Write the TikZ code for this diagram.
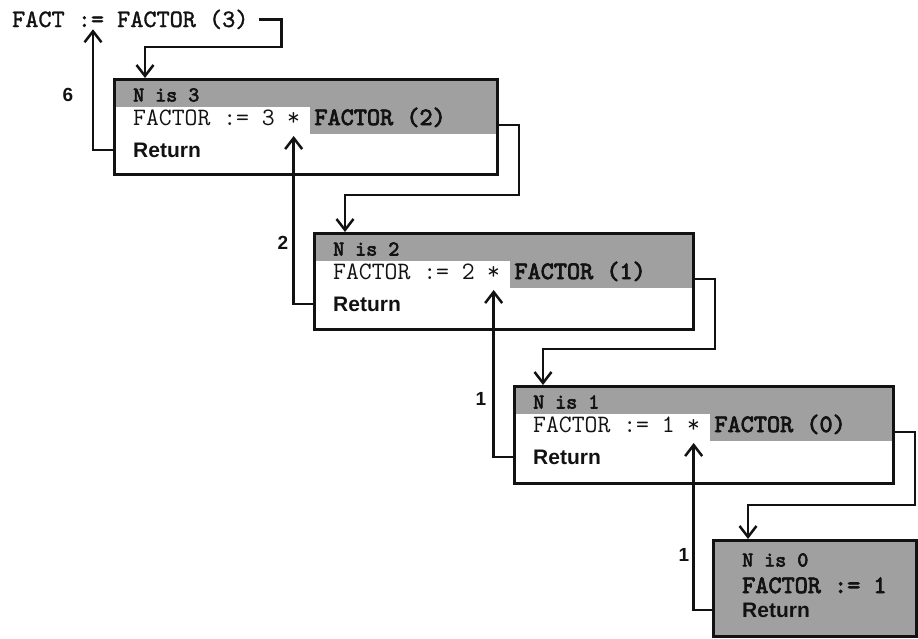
\documentclass[tikz,border=0pt]{standalone}
\usepackage{fontspec}
\usetikzlibrary{arrows.meta,calc,positioning}
\newfontfamily\labelfont{Liberation Sans}
\newfontfamily\heavycode{lmmono10-regular}[Extension=.otf,FakeBold=3]
\newfontfamily\mediumcode{lmmono10-regular}[Extension=.otf,FakeBold=1.4]
\definecolor{ink}{RGB}{18,18,18}
\definecolor{halftone}{RGB}{160,160,160}
\pgfdeclarelayer{bglayer}
\pgfsetlayers{bglayer,main}

\begin{document}
\begin{tikzpicture}[
  x=1pt,
  y=-1pt,
  line join=miter,
  frame/.style={
    draw=ink,
    line width=3pt,
    inner sep=0pt,
    anchor=north west
  },
  head/.style={
    font=\heavycode\fontsize{21}{23}\selectfont,
    text=ink,
    inner sep=0pt,
    anchor=west
  },
  code/.style={
    font=\ttfamily\fontsize{25}{28}\selectfont,
    text=ink,
    inner sep=0pt,
    anchor=base west
  },
  callcode/.style={
    code,
    font=\heavycode\fontsize{25}{28}\selectfont
  },
  maincode/.style={
    code,
    font=\mediumcode\fontsize{25}{28}\selectfont
  },
  retword/.style={
    font=\labelfont\bfseries\fontsize{21}{24}\selectfont,
    text=ink,
    inner sep=0pt,
    anchor=west
  },
  count/.style={
    font=\labelfont\bfseries\fontsize{19}{22}\selectfont,
    text=ink,
    inner sep=0pt
  },
  link/.style={
    -{Straight Barb[length=11pt,width=17pt]},
    draw=ink,
    line width=2.5pt
  }
]
\useasboundingbox (0,0) rectangle (918,638);

% Main program call.
\node[maincode] (fact) at (12,27) {FACT := FACTOR (3)};

% ---------------------------------------------------------------------------
% Activation 1: N is 3.
% ---------------------------------------------------------------------------
\node[frame, minimum width=383pt, minimum height=95pt] (box1) at (113,78) {};
\node[head] (head1) at ([shift={(20,17)}]box1.north west) {N is 3};
\node[code] (code1) at ([shift={(20,47)}]box1.north west) {FACTOR := 3};
\node[code, base right=12pt of code1] (star1) {*};
\node[callcode, base right=14pt of star1] (call1) {FACTOR (2)};
\node[retword] (ret1) at ([shift={(20,72)}]box1.north west) {Return};

% ---------------------------------------------------------------------------
% Activation 2: N is 2.
% ---------------------------------------------------------------------------
\node[frame, minimum width=379pt, minimum height=96pt] (box2) at (313,232) {};
\node[head] (head2) at ([shift={(20,17)}]box2.north west) {N is 2};
\node[code] (code2) at ([shift={(20,47)}]box2.north west) {FACTOR := 2};
\node[code, base right=12pt of code2] (star2) {*};
\node[callcode, base right=14pt of star2] (call2) {FACTOR (1)};
\node[retword] (ret2) at ([shift={(20,72)}]box2.north west) {Return};

% ---------------------------------------------------------------------------
% Activation 3: N is 1.
% ---------------------------------------------------------------------------
\node[frame, minimum width=379pt, minimum height=97pt] (box3) at (513,385) {};
\node[head] (head3) at ([shift={(20,17)}]box3.north west) {N is 1};
\node[code] (code3) at ([shift={(20,47)}]box3.north west) {FACTOR := 1};
\node[code, base right=12pt of code3] (star3) {*};
\node[callcode, base right=14pt of star3] (call3) {FACTOR (0)};
\node[retword] (ret3) at ([shift={(20,72)}]box3.north west) {Return};

% ---------------------------------------------------------------------------
% Activation 4: N is 0 (no further call).
% ---------------------------------------------------------------------------
\node[frame, minimum width=203pt, minimum height=96pt] (box4) at (712,539) {};
\node[head] (head4) at ([shift={(30,21)}]box4.north west) {N is 0};
\node[callcode] (code4) at ([shift={(30,54)}]box4.north west) {FACTOR := 1};
\node[retword] (ret4) at ([shift={(30,71)}]box4.north west) {Return};

% Shaded parts: headers and pending calls.
\begin{pgfonlayer}{bglayer}
  \foreach \b/\c in {box1/call1,box2/call2,box3/call3} {
    \fill[halftone] (\b.north west) rectangle ($(\b.north east)+(0,29)$);
    \fill[halftone] ($(\c.west |- \b.north)+(-4,29)$)
      rectangle ($(\b.north east)+(0,56)$);
  }
  \fill[halftone] (box4.north west) rectangle (box4.south east);
\end{pgfonlayer}

% Calls going down.
\draw[link] ([xshift=10pt]fact.east) -- ++(23,0)
  |- ($(box1.north west)+(32,-31)$) -- ($(box1.north west)+(32,0)$);
\draw[link] (box1.east |- call1.base) -- ++(20,0)
  |- ($(box2.north west)+(32,-37)$) -- ($(box2.north west)+(32,0)$);
\draw[link] (box2.east |- call2.base) -- ++(20,0)
  |- ($(box3.north west)+(30,-36)$) -- ($(box3.north west)+(30,0)$);
\draw[link] (box3.east |- call3.base) -- ++(20,0)
  |- ($(box4.north west)+(36,-34)$) -- ($(box4.north west)+(36,0)$);

% Values coming back.
\draw[link] (box1.west |- ret1) -| ([xshift=81pt]fact.south west);
\draw[link] (box2.west |- ret2) -| ([yshift=-11pt]star1.base);
\draw[link] (box3.west |- ret3) -| ([yshift=-11pt]star2.base);
\draw[link] (box4.west |- ret4) -| ([yshift=-11pt]star3.base);

\node[count] (val6) at (68,95) {6};
\node[count] (val2) at (283,243) {2};
\node[count] (val1) at (481,399) {1};
\node[count] (val0) at (684,555) {1};

\end{tikzpicture}
\end{document}
